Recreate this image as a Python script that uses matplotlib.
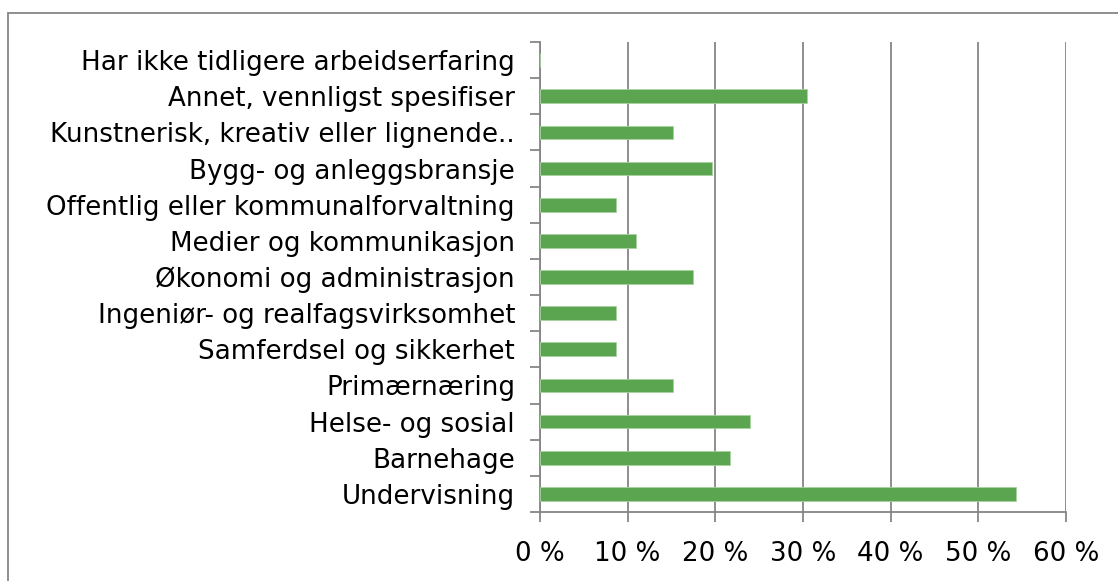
import matplotlib.pyplot as plt
from matplotlib.patches import Rectangle
from matplotlib.ticker import FuncFormatter, FixedLocator

# Categories, top to bottom as in the chart
categories = ["Har ikke tidligere arbeidserfaring",
              "Annet, vennligst spesifiser",
              "Kunstnerisk, kreativ eller lignende..",
              "Bygg- og anleggsbransje",
              "Offentlig eller kommunalforvaltning",
              "Medier og kommunikasjon",
              "Økonomi og administrasjon",
              "Ingeniør- og realfagsvirksomhet",
              "Samferdsel og sikkerhet",
              "Primærnæring",
              "Helse- og sosial",
              "Barnehage",
              "Undervisning"]
values = [0.0, 30.4, 15.2, 19.6, 8.7, 10.9, 17.4, 8.7, 8.7, 15.2, 23.9, 21.7, 54.3]
xticks = [0, 10, 20, 30, 40, 50, 60]

axis_grey = "#868686"
bar_green = "#5BA550"

fig = plt.figure(figsize=(11.18, 5.81), dpi=100)
ax = fig.add_axes([540 / 1118, 1 - 512 / 581, 526 / 1118, 470 / 581])

# outer chart border (runs off the right and bottom edges)
fig.patches.append(Rectangle((8 / 1118, -0.1), 1.2, 1 - 13 / 581 + 0.1,
                             transform=fig.transFigure, fill=False,
                             edgecolor=axis_grey, linewidth=1.3))

n = len(categories)
ypos = [n - 1 - i for i in range(n)]
ax.barh(ypos, values, height=0.38, color=bar_green, edgecolor="#A9D3A1",
        linewidth=0.6, zorder=3)

ax.set_xlim(0, 60)
ax.set_ylim(-0.5, n - 0.5)
ax.set_xticks(xticks)
ax.xaxis.set_major_formatter(FuncFormatter(lambda v, p: "%d %%" % v))
ax.set_yticks(ypos)
ax.set_yticklabels(categories)
ax.yaxis.set_minor_locator(FixedLocator([i - 0.5 for i in range(n + 1)]))

ax.grid(axis="x", color=axis_grey, linewidth=1.3, zorder=0)
for s in ["top", "right"]:
    ax.spines[s].set_visible(False)
for s in ["left", "bottom"]:
    ax.spines[s].set_color(axis_grey)
    ax.spines[s].set_linewidth(1.3)

ax.tick_params(axis="y", which="major", length=0, pad=18, labelsize=18.8)
ax.tick_params(axis="y", which="minor", length=7, width=1.3, color=axis_grey)
ax.tick_params(axis="x", length=7, width=1.3, color=axis_grey, pad=14,
               labelsize=18.8)

fig.savefig("out.png", dpi=100, facecolor="white")
